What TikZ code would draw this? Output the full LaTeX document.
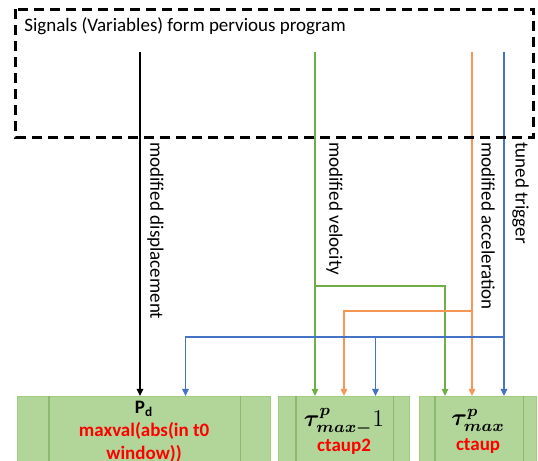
\documentclass[tikz,border=0pt]{standalone}
\usepackage{amsmath}
\usepackage{bm}
\usepackage{fontspec}
\setmainfont{Carlito}
\usetikzlibrary{arrows.meta}

\definecolor{sigGreen}{RGB}{112,173,71}
\definecolor{sigOrange}{RGB}{245,150,85}
\definecolor{sigBlue}{RGB}{68,114,196}
\definecolor{boxFill}{RGB}{178,214,154}
\definecolor{boxEdge}{RGB}{160,205,130}
\definecolor{boxLine}{RGB}{140,185,110}

\begin{document}
\begin{tikzpicture}[x=0.5pt,y=-0.5pt,
	sig/.style={line width=0.8pt},
	feed/.style={sig,-{Triangle[length=3.5pt,width=3.2pt]}},
	lab/.style={rotate=-90,anchor=south west,inner sep=0pt,font=\fontsize{9.5}{11}\selectfont},
	procbox/.style={draw=boxEdge,fill=boxFill,line width=0.6pt,anchor=north west,minimum height=35pt,inner sep=0pt,align=center,font=\fontsize{9.5}{11.5}\selectfont},
	procline/.style={draw=boxLine,line width=0.6pt},
	res/.style={text=red,font=\bfseries\fontsize{9.5}{11.5}\selectfont}
	]
	\useasboundingbox (0,0) rectangle (538,461);
	
	% result boxes
	\node[procbox,minimum width=126.5pt] (pd) at (17,396) {\textbf{P\textsubscript{d}}\\ \textcolor{red}{\textbf{maxval(abs(in t0}}\\ \textcolor{red}{\textbf{window))}}};
	\node[procbox,minimum width=65.5pt] (tm1) at (278,396) {{\fontsize{12}{13}\selectfont $\bm{\tau^{p}_{max-}}1$}\\[1pt] \textcolor{red}{\textbf{ctaup2}}};
	\node[procbox,minimum width=58.5pt] (tmax) at (419,396) {{\fontsize{12}{13}\selectfont $\bm{\tau^{p}_{max}}$}\\[1pt] \textcolor{red}{\textbf{ctaup}}};
	\draw[procline] ([xshift=16pt]pd.north west) -- ([xshift=16pt]pd.south west);
	\draw[procline] ([xshift=-15.5pt]pd.north east) -- ([xshift=-15.5pt]pd.south east);
	\draw[procline] ([xshift=9pt]tm1.north west) -- ([xshift=9pt]tm1.south west);
	\draw[procline] ([xshift=-8.5pt]tm1.north east) -- ([xshift=-8.5pt]tm1.south east);
	\draw[procline] ([xshift=8pt]tmax.north west) -- ([xshift=8pt]tmax.south west);
	\draw[procline] ([xshift=-7pt]tmax.north east) -- ([xshift=-7pt]tmax.south east);
	
	% signal sources
	\coordinate (disp) at (140,52);
	\coordinate (vel) at (315,52);
	\coordinate (acc) at (472,52);
	\coordinate (trig) at (504,52);
	\coordinate (velknee) at (445,286);
	\coordinate (accknee) at (344,311);
	\coordinate (trigA) at (185.5,337);
	\coordinate (trigB) at (375.5,337);
	
	\draw[feed,black] (disp) -- (disp |- pd.north);
	\draw[feed,sigGreen] (vel) -- (vel |- tm1.north);
	\draw[feed,sigOrange] (acc) -- (acc |- tmax.north);
	\draw[feed,sigBlue] (trig) -- (trig |- tmax.north);
	
	\draw[feed,sigGreen] (vel |- velknee) -- (velknee) -- (velknee |- tmax.north);
	\draw[feed,sigOrange] (acc |- accknee) -- (accknee) -- (accknee |- tm1.north);
	\draw[sig,sigBlue] (trig |- trigA) -- (trigA);
	\draw[feed,sigBlue] (trigA) -- (trigA |- pd.north);
	\draw[feed,sigBlue] (trigB) -- (trigB |- tm1.north);
	
	\node[lab] at (147,142) {modified displacement};
	\node[lab] at (326,142) {modified velocity};
	\node[lab] at (481,142) {modified acceleration};
	\node[lab] at (512,142) {tuned trigger};
	
	% previous program
	\draw[line width=1.5pt,dash pattern=on 5pt off 3pt] (16,9) rectangle (534,137);
	\node[anchor=west,inner sep=0pt,font=\fontsize{9.5}{11}\selectfont] (prog) at (24,26) {Signals (Variables) form pervious program};
\end{tikzpicture}
\end{document}
